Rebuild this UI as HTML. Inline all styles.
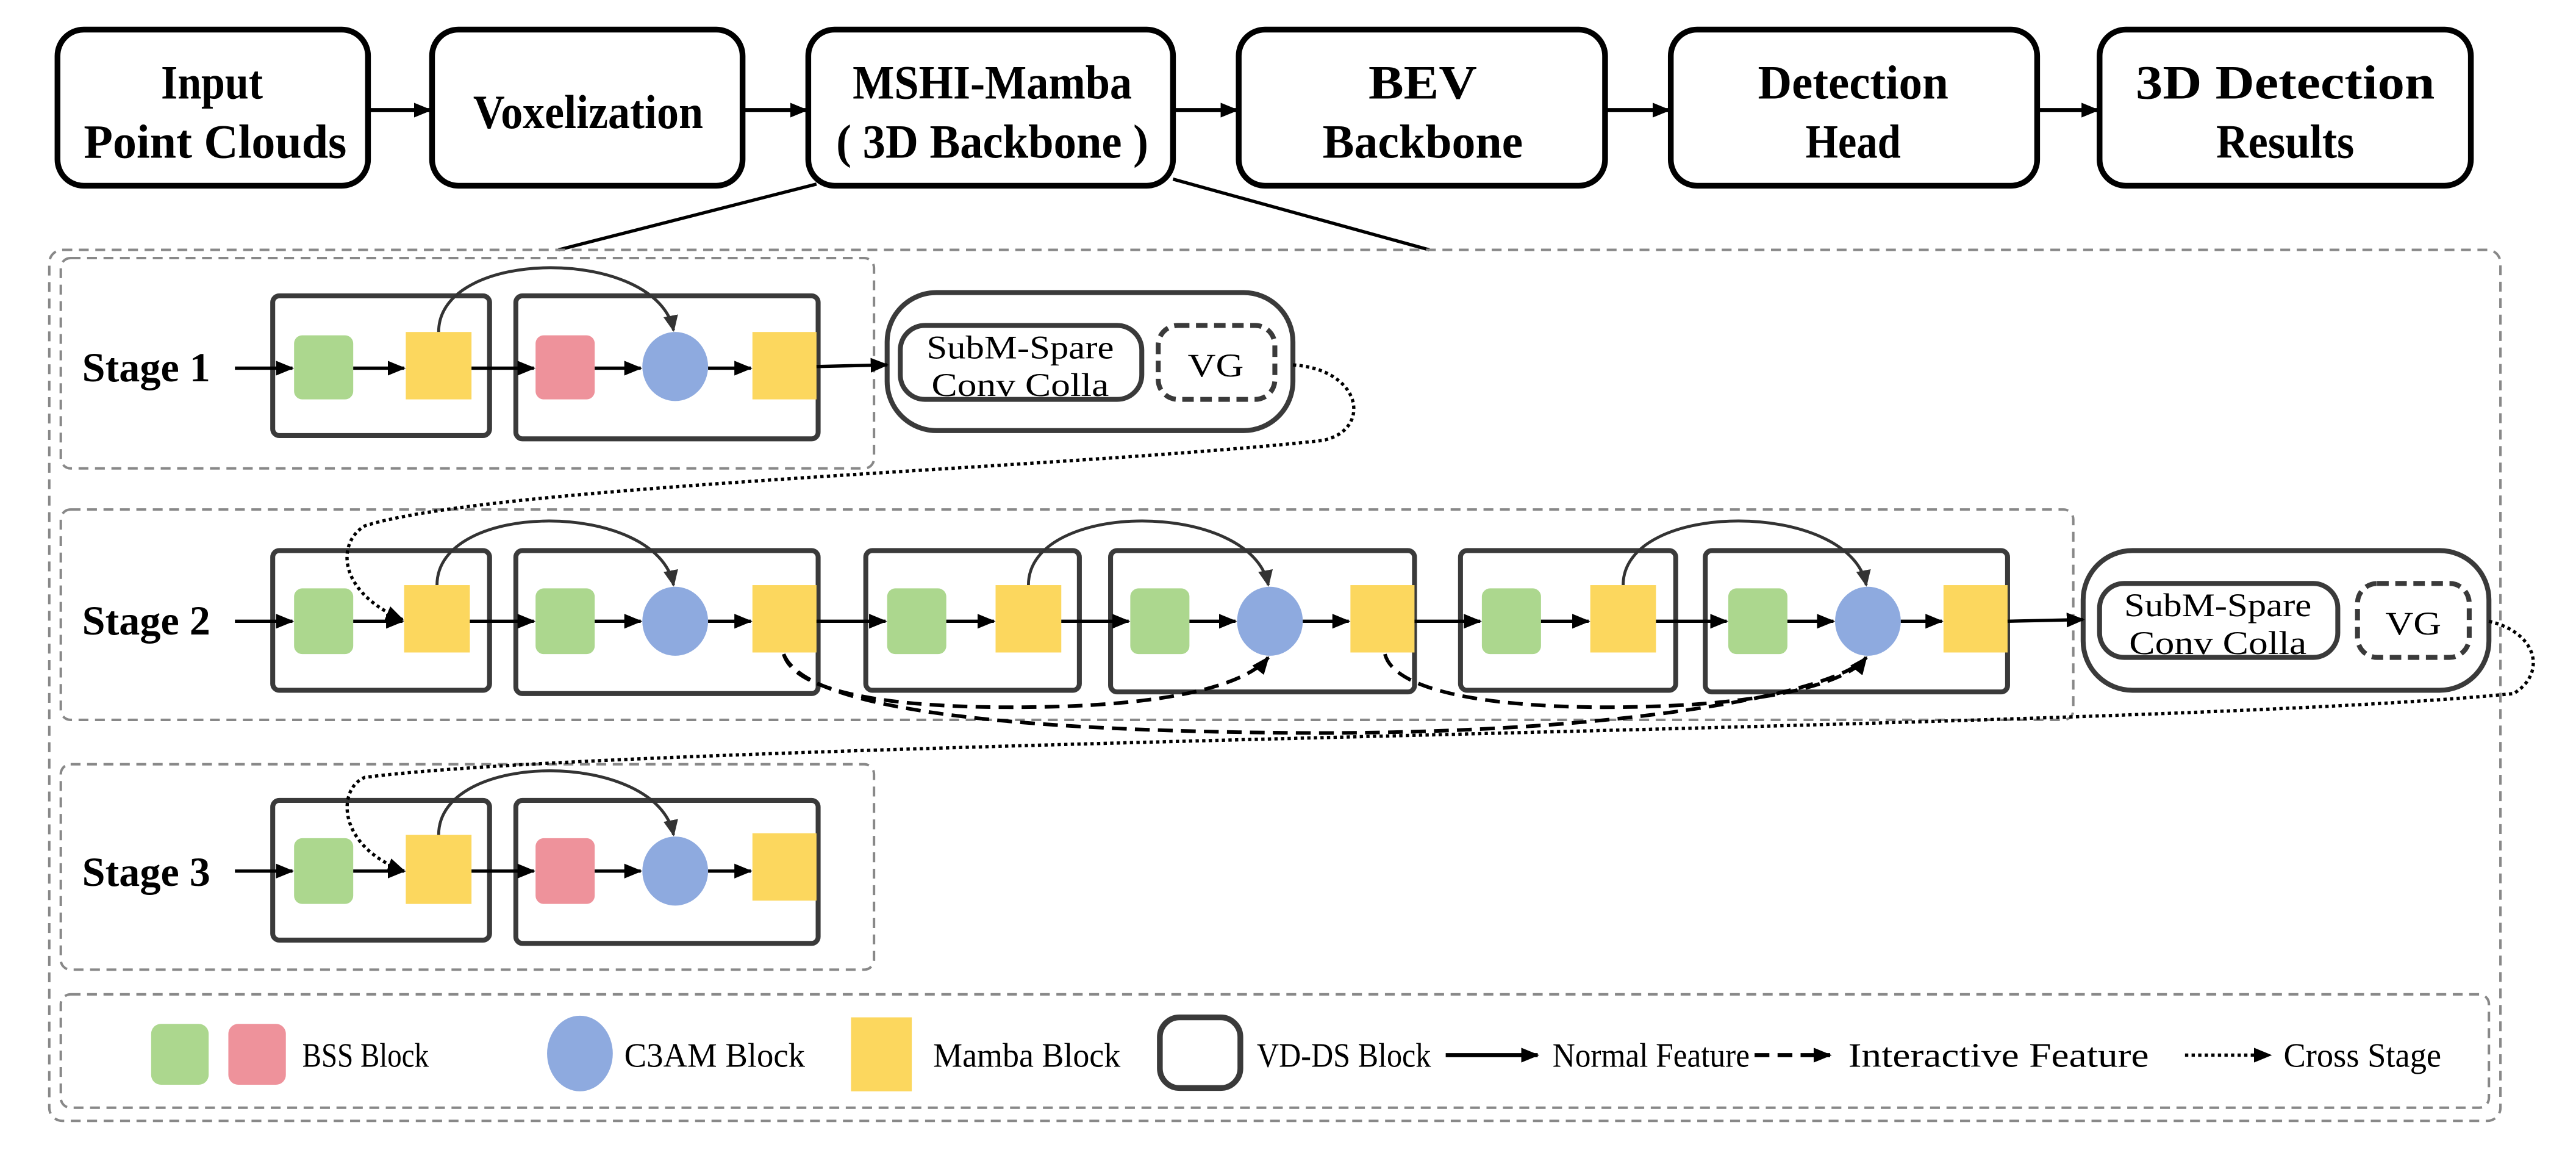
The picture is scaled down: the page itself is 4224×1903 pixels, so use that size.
<!DOCTYPE html>
<html><head><meta charset="utf-8"><style>html,body{margin:0;padding:0;background:#fff}svg{display:block}</style></head>
<body>
<svg width="4224" height="1903" viewBox="0 0 1568 706.4" xmlns="http://www.w3.org/2000/svg">
<defs>
<marker id="a" markerUnits="userSpaceOnUse" markerWidth="11" markerHeight="9" refX="10" refY="4.5" orient="auto"><path d="M0,0 L11,4.5 L0,9 z" fill="#000"/></marker>
<marker id="b" markerUnits="userSpaceOnUse" markerWidth="10" markerHeight="9" refX="9" refY="4.5" orient="auto"><path d="M0,0 L10,4.5 L0,9 z" fill="#333"/></marker>
</defs>
<rect width="1568" height="706.4" fill="#fff"/>
<g font-family="Liberation Serif, serif" font-weight="bold" font-size="29" text-anchor="middle" fill="#000" lengthAdjust="spacingAndGlyphs">
<g fill="#fff" stroke="#000" stroke-width="3.5">
<rect x="35" y="18" width="189" height="95" rx="16"/>
<rect x="263" y="18" width="189" height="95" rx="16"/>
<rect x="492" y="18" width="222" height="95" rx="16"/>
<rect x="754" y="18" width="223" height="95" rx="16"/>
<rect x="1017" y="18" width="223" height="95" rx="16"/>
<rect x="1278" y="18" width="226" height="95" rx="16"/>
</g>
<text x="129" y="60" textLength="62" lengthAdjust="spacingAndGlyphs">Input</text><text x="131" y="96" textLength="160" lengthAdjust="spacingAndGlyphs">Point Clouds</text>
<text x="358" y="78" textLength="140" lengthAdjust="spacingAndGlyphs">Voxelization</text>
<text x="604" y="60" textLength="170" lengthAdjust="spacingAndGlyphs">MSHI-Mamba</text><text x="604" y="96" textLength="190" lengthAdjust="spacingAndGlyphs">( 3D Backbone )</text>
<text x="866" y="60" textLength="66" lengthAdjust="spacingAndGlyphs">BEV</text><text x="866" y="96" textLength="122" lengthAdjust="spacingAndGlyphs">Backbone</text>
<text x="1128" y="60" textLength="116" lengthAdjust="spacingAndGlyphs">Detection</text><text x="1128" y="96" textLength="58" lengthAdjust="spacingAndGlyphs">Head</text>
<text x="1391" y="60" textLength="182" lengthAdjust="spacingAndGlyphs">3D  Detection</text><text x="1391" y="96" textLength="84" lengthAdjust="spacingAndGlyphs">Results</text>
</g>
<g stroke="#000" stroke-width="2.5" marker-end="url(#a)">
<line x1="224" y1="67" x2="262" y2="67"/>
<line x1="452" y1="67" x2="491" y2="67"/>
<line x1="714" y1="67" x2="753" y2="67"/>
<line x1="977" y1="67" x2="1016" y2="67"/>
<line x1="1240" y1="67" x2="1277" y2="67"/>
</g>
<line x1="497" y1="112" x2="340" y2="152" stroke="#000" stroke-width="2"/>
<line x1="714" y1="109" x2="870" y2="152" stroke="#000" stroke-width="2"/>
<g fill="none" stroke="#888" stroke-width="1.5" stroke-dasharray="6,4">
<rect x="30" y="152" width="1492" height="530" rx="8"/>
<rect x="37" y="157" width="495" height="128" rx="6"/>
<rect x="37" y="310" width="1225" height="128" rx="6"/>
<rect x="37" y="465" width="495" height="125" rx="6"/>
<rect x="37" y="605" width="1478" height="69" rx="6"/>
</g>
<g font-family="Liberation Serif, serif" font-weight="bold" font-size="25" fill="#000">
<text x="50" y="232" textLength="78" lengthAdjust="spacingAndGlyphs">Stage 1</text>
<text x="50" y="386" textLength="78" lengthAdjust="spacingAndGlyphs">Stage 2</text>
<text x="50" y="539" textLength="78" lengthAdjust="spacingAndGlyphs">Stage 3</text>
</g>
<g fill="none" stroke="#3a3a3a" stroke-width="3">
<rect x="166" y="180" width="132" height="85" rx="4"/>
<rect x="314" y="180" width="184" height="87" rx="4"/>
<rect x="166" y="335" width="132" height="85" rx="4"/>
<rect x="314" y="335" width="184" height="87" rx="4"/>
<rect x="527" y="335" width="130" height="85" rx="4"/>
<rect x="676" y="335" width="185" height="86" rx="4"/>
<rect x="889" y="335" width="131" height="85" rx="4"/>
<rect x="1038" y="335" width="184" height="86" rx="4"/>
<rect x="166" y="487" width="132" height="85" rx="4"/>
<rect x="314" y="487" width="184" height="87" rx="4"/>
<rect x="540" y="178" width="247" height="84" rx="30"/>
<rect x="1268" y="335" width="247" height="85" rx="30"/>
<rect x="548" y="198" width="147" height="45" rx="15"/>
<rect x="1278" y="355" width="145" height="45" rx="15"/>
</g>
<g fill="none" stroke="#3a3a3a" stroke-width="3" stroke-dasharray="7,4">
<rect x="705" y="198" width="71" height="45" rx="12"/>
<rect x="1435" y="355" width="68" height="45" rx="12"/>
</g>
<g font-family="Liberation Serif, serif" font-size="20" text-anchor="middle" fill="#000">
<text x="621" y="218" textLength="114" lengthAdjust="spacingAndGlyphs">SubM-Spare</text><text x="621" y="241" textLength="108" lengthAdjust="spacingAndGlyphs">Conv Colla</text>
<text x="740" y="229" textLength="34" lengthAdjust="spacingAndGlyphs">VG</text>
<text x="1350" y="375" textLength="114" lengthAdjust="spacingAndGlyphs">SubM-Spare</text><text x="1350" y="398" textLength="108" lengthAdjust="spacingAndGlyphs">Conv Colla</text>
<text x="1469" y="386" textLength="34" lengthAdjust="spacingAndGlyphs">VG</text>
</g>
<g>
<rect x="179" y="204" width="36" height="39" rx="5" fill="#acd78e"/>
<rect x="247" y="202" width="40" height="41" fill="#fcd75e"/>
<rect x="326" y="204" width="36" height="39" rx="5" fill="#ee929b"/>
<ellipse cx="411" cy="223" rx="20" ry="21" fill="#8eaadf"/>
<rect x="458" y="202" width="39" height="41" fill="#fcd75e"/>
<rect x="179" y="358" width="36" height="40" rx="5" fill="#acd78e"/>
<rect x="246" y="356" width="40" height="41" fill="#fcd75e"/>
<rect x="326" y="358" width="36" height="40" rx="5" fill="#acd78e"/>
<ellipse cx="411" cy="378" rx="20" ry="21" fill="#8eaadf"/>
<rect x="458" y="356" width="39" height="41" fill="#fcd75e"/>
<rect x="540" y="358" width="36" height="40" rx="5" fill="#acd78e"/>
<rect x="606" y="356" width="40" height="41" fill="#fcd75e"/>
<rect x="688" y="358" width="36" height="40" rx="5" fill="#acd78e"/>
<ellipse cx="773" cy="378" rx="20" ry="21" fill="#8eaadf"/>
<rect x="822" y="356" width="39" height="41" fill="#fcd75e"/>
<rect x="902" y="358" width="36" height="40" rx="5" fill="#acd78e"/>
<rect x="968" y="356" width="40" height="41" fill="#fcd75e"/>
<rect x="1052" y="358" width="36" height="40" rx="5" fill="#acd78e"/>
<ellipse cx="1137" cy="378" rx="20" ry="21" fill="#8eaadf"/>
<rect x="1183" y="356" width="39" height="41" fill="#fcd75e"/>
<rect x="179" y="510" width="36" height="40" rx="5" fill="#acd78e"/>
<rect x="247" y="508" width="40" height="42" fill="#fcd75e"/>
<rect x="326" y="510" width="36" height="40" rx="5" fill="#ee929b"/>
<ellipse cx="411" cy="530" rx="20" ry="21" fill="#8eaadf"/>
<rect x="458" y="507" width="39" height="41" fill="#fcd75e"/>
</g>
<g stroke="#000" stroke-width="2" marker-end="url(#a)">
<line x1="143" y1="224" x2="178" y2="224"/>
<line x1="215" y1="224" x2="246" y2="224"/>
<line x1="287" y1="224" x2="325" y2="224"/>
<line x1="362" y1="224" x2="390" y2="224"/>
<line x1="431" y1="224" x2="457" y2="224"/>
<line x1="497" y1="223" x2="540" y2="222"/>
<line x1="143" y1="378" x2="178" y2="378"/>
<line x1="215" y1="378" x2="245" y2="378"/>
<line x1="286" y1="378" x2="325" y2="378"/>
<line x1="362" y1="378" x2="390" y2="378"/>
<line x1="431" y1="378" x2="457" y2="378"/>
<line x1="497" y1="378" x2="539" y2="378"/>
<line x1="576" y1="378" x2="605" y2="378"/>
<line x1="646" y1="378" x2="687" y2="378"/>
<line x1="724" y1="378" x2="752" y2="378"/>
<line x1="793" y1="378" x2="821" y2="378"/>
<line x1="861" y1="378" x2="901" y2="378"/>
<line x1="938" y1="378" x2="967" y2="378"/>
<line x1="1008" y1="378" x2="1051" y2="378"/>
<line x1="1088" y1="378" x2="1116" y2="378"/>
<line x1="1157" y1="378" x2="1182" y2="378"/>
<line x1="1222" y1="378" x2="1268" y2="377"/>
<line x1="143" y1="530" x2="178" y2="530"/>
<line x1="215" y1="530" x2="246" y2="530"/>
<line x1="287" y1="530" x2="325" y2="530"/>
<line x1="362" y1="530" x2="390" y2="530"/>
<line x1="431" y1="530" x2="457" y2="530"/>
</g>
<g fill="none" stroke="#333" stroke-width="1.8" marker-end="url(#b)">
<path d="M267,202 C267,150 400,150 410,201"/>
<path d="M266,356 C266,304 400,304 410,356"/>
<path d="M626,356 C626,304 762,304 772,356"/>
<path d="M988,356 C988,304 1126,304 1136,356"/>
<path d="M267,508 C267,456 400,456 410,508"/>
</g>
<g fill="none" stroke="#000" stroke-width="2.2" stroke-dasharray="9,5" marker-end="url(#a)">
<path d="M477,398 C485,425 560,432 640,430 C720,428 760,415 772,400"/>
<path d="M477,398 C490,430 600,445 800,446 C1000,446 1120,420 1136,400"/>
<path d="M843,398 C850,425 930,432 1000,430 C1080,428 1125,415 1136,400"/>
</g>
<g fill="none" stroke="#000" stroke-width="2" stroke-dasharray="2,2" marker-end="url(#a)">
<path d="M787,222 C830,225 835,262 805,268 C650,285 300,295 222,320 C205,330 205,360 245,377"/>
<path d="M1515,378 C1545,385 1550,410 1530,422 C1300,445 400,450 222,473 C205,480 205,515 246,530"/>
</g>
<rect x="92" y="623" width="35" height="37" rx="6" fill="#acd78e"/>
<rect x="139" y="623" width="35" height="37" rx="6" fill="#ee929b"/>
<ellipse cx="353" cy="641" rx="20" ry="23" fill="#8eaadf"/>
<rect x="518" y="619" width="37" height="45" fill="#fcd75e"/>
<rect x="706" y="619" width="49" height="43" rx="12" fill="none" stroke="#3a3a3a" stroke-width="3.5"/>
<g font-family="Liberation Serif, serif" font-size="21" fill="#000">
<text x="184" y="649" textLength="77" lengthAdjust="spacingAndGlyphs">BSS Block</text>
<text x="380" y="649" textLength="110" lengthAdjust="spacingAndGlyphs">C3AM Block</text>
<text x="568" y="649" textLength="114" lengthAdjust="spacingAndGlyphs">Mamba Block</text>
<text x="765" y="649" textLength="106" lengthAdjust="spacingAndGlyphs">VD-DS Block</text>
<text x="945" y="649" textLength="120" lengthAdjust="spacingAndGlyphs">Normal Feature</text>
<text x="1125" y="649" textLength="183" lengthAdjust="spacingAndGlyphs">Interactive Feature</text>
<text x="1390" y="649" textLength="96" lengthAdjust="spacingAndGlyphs">Cross Stage</text>
</g>
<line x1="880" y1="642" x2="936" y2="642" stroke="#000" stroke-width="2.5" marker-end="url(#a)"/>
<line x1="1068" y1="642" x2="1114" y2="642" stroke="#000" stroke-width="2.5" stroke-dasharray="9,5" marker-end="url(#a)"/>
<line x1="1330" y1="642" x2="1382" y2="642" stroke="#000" stroke-width="2" stroke-dasharray="2,2" marker-end="url(#a)"/>
</svg>
</body></html>
